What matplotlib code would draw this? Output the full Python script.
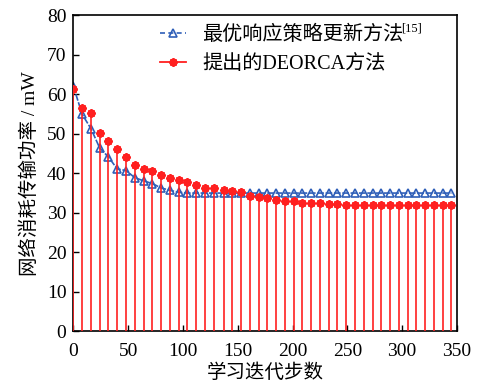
import matplotlib.pyplot as plt
from matplotlib.lines import Line2D

plt.rcParams['font.family'] = ['Liberation Serif', 'Noto Sans CJK SC']

# iteration steps (read from the stem positions)
steps = [0, 8, 16, 24, 32, 40, 48, 56, 64, 72, 80, 88, 96, 104, 112, 120,
         128, 137, 145, 153, 161, 169, 177, 185, 193, 201, 209, 217, 225,
         233, 241, 249, 257, 265, 273, 281, 289, 297, 305, 313, 321, 329,
         337, 345]

# best-response update method [15]
best_resp = [62.0, 54.9, 51.3, 46.4, 44.1, 41.1, 40.7, 38.9, 38.1, 37.4, 36.3,
             35.7, 35.2, 35.0, 35.0, 35.0, 35.0, 35.0, 35.0, 35.0, 35.0, 35.0,
             35.0, 35.0, 35.0, 35.0, 35.0, 35.0, 35.0, 35.0, 35.0, 35.0, 35.0,
             35.0, 35.0, 35.0, 35.0, 35.0, 35.0, 35.0, 35.0, 35.0, 35.0, 35.0]

# proposed DEORCA method
deorca = [61.3, 56.6, 55.3, 50.3, 48.1, 46.2, 44.2, 42.1, 41.1, 40.5, 39.6,
          38.8, 38.4, 37.9, 37.1, 36.4, 36.2, 35.8, 35.4, 35.2, 34.3, 34.0,
          33.7, 33.3, 32.9, 32.9, 32.6, 32.4, 32.4, 32.2, 32.2, 31.9, 31.9,
          31.9, 31.9, 31.9, 31.9, 31.9, 31.9, 31.9, 31.9, 31.9, 31.9, 31.9]

labels = ['最优响应策略更新方法', '提出的DEORCA方法']
ref_mark = '[15]'

blue = '#2f5fb8'
red = '#ff2020'

fig = plt.figure(figsize=(4.83, 3.89), dpi=100)
ax = fig.add_axes([0.152, 0.148, 0.794, 0.813])

ax.plot(steps, best_resp, color=blue, ls='--', dashes=(4, 1), lw=1.2,
        marker='^', ms=6, mfc='none', mec=blue, mew=1.2, zorder=2)
ax.vlines(steps, 0, deorca, colors=red, lw=1.2, zorder=3)
ax.plot(steps, deorca, ls='none', marker=(8, 2, 0), ms=6, color=red,
        mew=1.5, zorder=4)

ax.set_xlim(0, 350)
ax.set_ylim(0, 80)
ax.set_xticks(range(0, 351, 50))
ax.set_yticks(range(0, 81, 10))
ax.tick_params(direction='in', length=4, width=1, labelsize=14)
ax.tick_params(axis='x', pad=8)
ax.tick_params(axis='y', pad=5)
for s in ax.spines.values():
    s.set_linewidth(1.2)

ax.set_xlabel('学习迭代步数', fontsize=14, labelpad=3)
ax.set_ylabel('网络消耗传输功率 / mW', fontsize=14, labelpad=6)

handles = [
    Line2D([], [], color=blue, ls='--', dashes=(3, 2), lw=1.2, marker='^',
           ms=6, mfc='none', mec=blue, mew=1.2),
    Line2D([], [], color=red, lw=1.3, marker=(8, 2, 0), ms=6, mew=1.5),
]
leg = ax.legend(handles, labels, loc='upper left', bbox_to_anchor=(0.226, 0.965),
                frameon=False, fontsize=14.5, borderpad=0, borderaxespad=0,
                handlelength=1.3, handletextpad=0.8, labelspacing=0.45)

# superscript citation after the first legend entry
fig.canvas.draw()
bb = leg.get_texts()[0].get_window_extent()
fx, fy = fig.transFigure.inverted().transform((bb.x1 - 3, bb.y1 + 4))
fig.text(fx, fy, ref_mark, fontsize=9, va='top', ha='left')

fig.savefig('out.png', dpi=100)
